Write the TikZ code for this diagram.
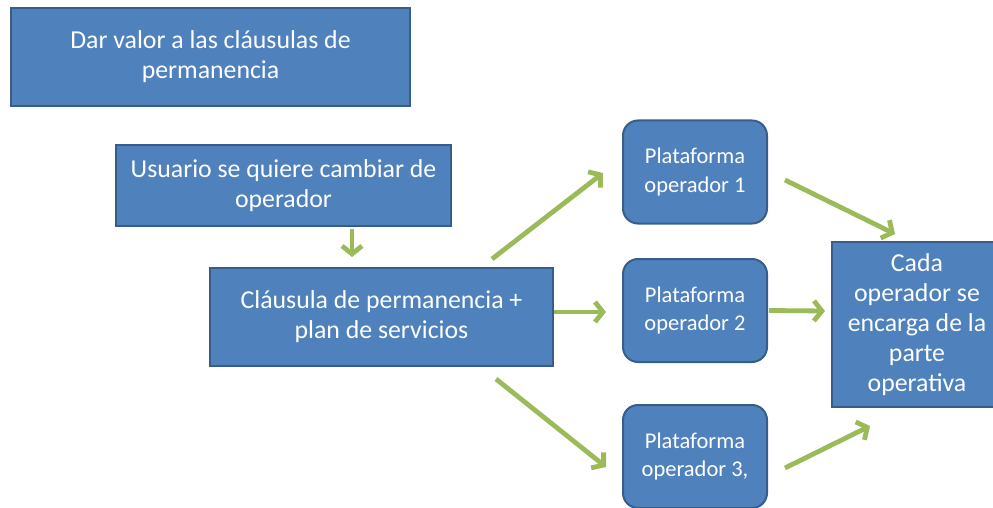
\documentclass[tikz,border=0pt]{standalone}
\usepackage{fontspec}
\setmainfont{Carlito}
\usetikzlibrary{arrows.meta}
\definecolor{boxfill}{HTML}{4F81BD}
\definecolor{boxline}{HTML}{385D8A}
\definecolor{arrgreen}{HTML}{9BBB59}
\begin{document}
\begin{tikzpicture}[x=1pt,y=1pt,
  bigbox/.style={draw=boxline,line width=2pt,fill=boxfill,text=white,inner sep=0pt,align=center,
    font=\fontsize{25.8}{30}\selectfont},
  platbox/.style={bigbox,rounded corners=15pt,minimum width=144pt,minimum height=103pt,
    font=\fontsize{22.5}{28.5}\selectfont},
  arr/.style={draw=arrgreen,line width=4.8pt,-{Straight Barb[length=8pt,width=20pt]}}]
\useasboundingbox (0,0) rectangle (993,-508);
\node[bigbox,minimum width=399pt,minimum height=98pt] (A) at (210.5,-57) {Dar valor a las cláusulas de\\permanencia};
\node[bigbox,minimum width=335pt,minimum height=81pt] (B) at (283.5,-185.5) {Usuario se quiere cambiar de\\operador};
\node[bigbox,minimum width=343pt,minimum height=98pt] (C) at (381.5,-317) {Cláusula de permanencia +\\plan de servicios};
\node[platbox] (P1) at (695,-172) {Plataforma\\operador 1};
\node[platbox] (P2) at (695,-310.5) {Plataforma\\operador 2};
\node[platbox] (P3) at (695,-456.5) {Plataforma\\operador 3,};
\node[bigbox,minimum width=170pt,minimum height=165pt] (D) at (917,-324.5) {Cada\\operador se\\encarga de la\\parte\\operativa};
\draw[arr] ([xshift=68.5pt,yshift=-2pt]B.south) -- ([xshift=-29.5pt,yshift=10pt]C.north);
\draw[arr] ([xshift=110.5pt,yshift=8pt]C.north) -- ([xshift=-19pt,yshift=-1pt]P1.west);
\draw[arr] ([yshift=5pt]C.east) -- ([xshift=-16pt,yshift=-1.5pt]P2.west);
\draw[arr] ([xshift=114.5pt,yshift=-12pt]C.south) -- ([xshift=-16pt,yshift=-10.5pt]P3.west);
\draw[arr] ([xshift=17pt,yshift=-8pt]P1.east) -- ([xshift=-22pt,yshift=7pt]D.north);
\draw[arr] ([xshift=1pt]P2.east) -- ([xshift=-6pt,yshift=13.5pt]D.west);
\draw[arr] ([xshift=17pt,yshift=-11.5pt]P3.east) -- ([xshift=-47pt,yshift=-18pt]D.south);
\end{tikzpicture}
\end{document}
